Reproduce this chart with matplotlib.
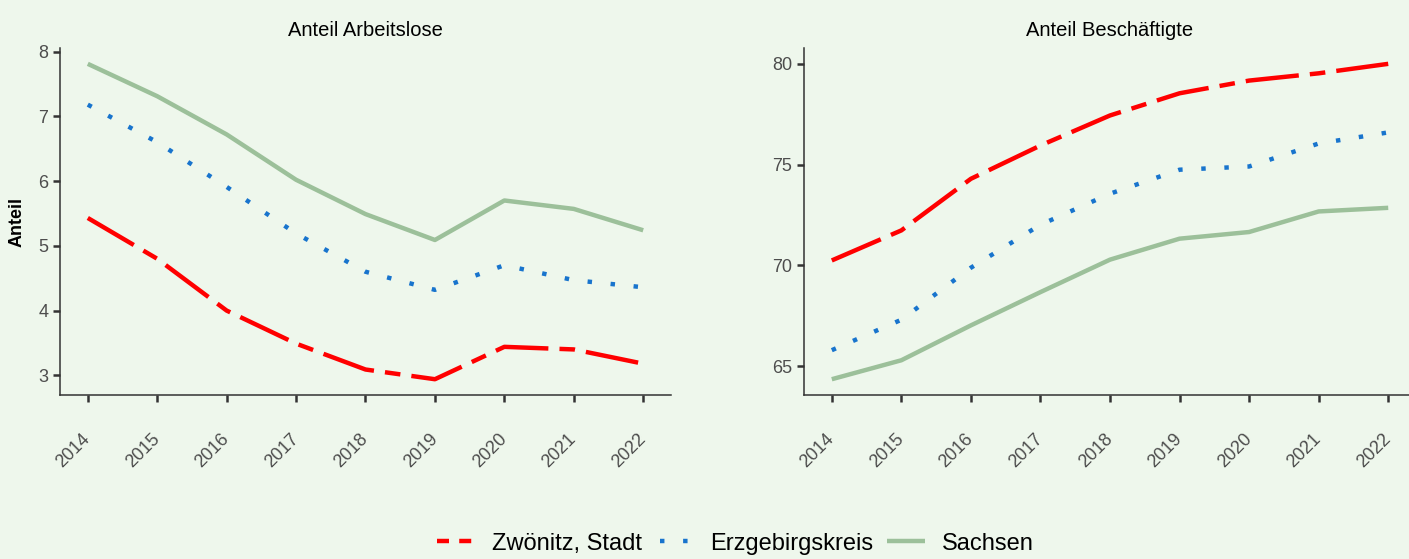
import matplotlib.pyplot as plt
from matplotlib.lines import Line2D

plt.rcParams['font.family'] = ['Liberation Sans', 'DejaVu Sans']

years = [2014, 2015, 2016, 2017, 2018, 2019, 2020, 2021, 2022]

# Anteil Arbeitslose
alo_zwoenitz = [5.43, 4.80, 4.00, 3.49, 3.09, 2.94, 3.44, 3.40, 3.18]
alo_erzgebirge = [7.18, 6.60, 5.91, 5.19, 4.60, 4.32, 4.70, 4.47, 4.36]
alo_sachsen = [7.81, 7.31, 6.72, 6.02, 5.49, 5.09, 5.70, 5.57, 5.24]

# Anteil Beschaeftigte
bes_zwoenitz = [70.25, 71.74, 74.30, 75.95, 77.44, 78.54, 79.17, 79.53, 80.00]
bes_erzgebirge = [65.80, 67.31, 69.89, 72.02, 73.56, 74.75, 74.91, 76.05, 76.60]
bes_sachsen = [64.36, 65.30, 67.03, 68.68, 70.29, 71.33, 71.66, 72.68, 72.86]

labels = ['Zwönitz, Stadt', 'Erzgebirgskreis', 'Sachsen']

bg = '#EEF7EC'
red = '#FF0000'
blue = '#1874CD'
green = '#9CC09A'
lw = 3.2

fig = plt.figure(figsize=(14.09, 5.59), dpi=100, facecolor=bg)
ax1 = fig.add_axes([0.0426, 0.2934, 0.4336, 0.6206])
ax2 = fig.add_axes([0.5706, 0.2934, 0.4344, 0.6206])


def draw(ax, z, e, s, title, yticks):
    ax.set_facecolor(bg)
    ax.plot(years, z, color=red, lw=lw, dashes=(12, 2.5, 3.5, 2.5),
            dash_capstyle='butt')
    ax.plot(years, e, color=blue, lw=lw, dashes=(1, 4.2),
            dash_capstyle='butt')
    ax.plot(years, s, color=green, lw=lw, solid_capstyle='butt')
    ax.set_xlim(2013.6, 2022.4)
    lo = min(min(z), min(e), min(s))
    hi = max(max(z), max(e), max(s))
    pad = (hi - lo) * 0.05
    ax.set_ylim(lo - pad, hi + pad)
    ax.set_xticks(years)
    ax.set_yticks(yticks)
    ax.set_title(title, fontsize=14.5, pad=9)
    for sp in ['top', 'right']:
        ax.spines[sp].set_visible(False)
    for sp in ['left', 'bottom']:
        ax.spines[sp].set_color('#333333')
        ax.spines[sp].set_linewidth(1.1)
    ax.tick_params(colors='#333333', labelcolor='#4D4D4D', labelsize=13,
                   length=5, width=1.8)
    ax.tick_params(axis='x', pad=25)
    for t in ax.get_xticklabels():
        t.set_rotation(45)
        t.set_ha('right')
        t.set_va('center')
        t.set_rotation_mode('anchor')


draw(ax1, alo_zwoenitz, alo_erzgebirge, alo_sachsen, 'Anteil Arbeitslose',
     [3, 4, 5, 6, 7, 8])
draw(ax2, bes_zwoenitz, bes_erzgebirge, bes_sachsen, 'Anteil Beschäftigte',
     [65, 70, 75, 80])
ax1.set_ylabel('Anteil', fontsize=13, fontweight='bold', labelpad=9)

handles = [
    Line2D([], [], color=red, lw=lw, linestyle=(0, (2.7, 2.3)),
           dash_capstyle='butt'),
    Line2D([], [], color=blue, lw=lw, linestyle=(4.3, (1, 4.2)),
           dash_capstyle='butt'),
    Line2D([], [], color=green, lw=lw, solid_capstyle='butt'),
]
fig.legend(handles, labels, loc='lower center', bbox_to_anchor=(0.522, -0.03),
           ncol=3, frameon=False, fontsize=17, handlelength=1.6,
           columnspacing=0.6, handletextpad=0.7)

fig.savefig('out.png', dpi=100, facecolor=bg)
